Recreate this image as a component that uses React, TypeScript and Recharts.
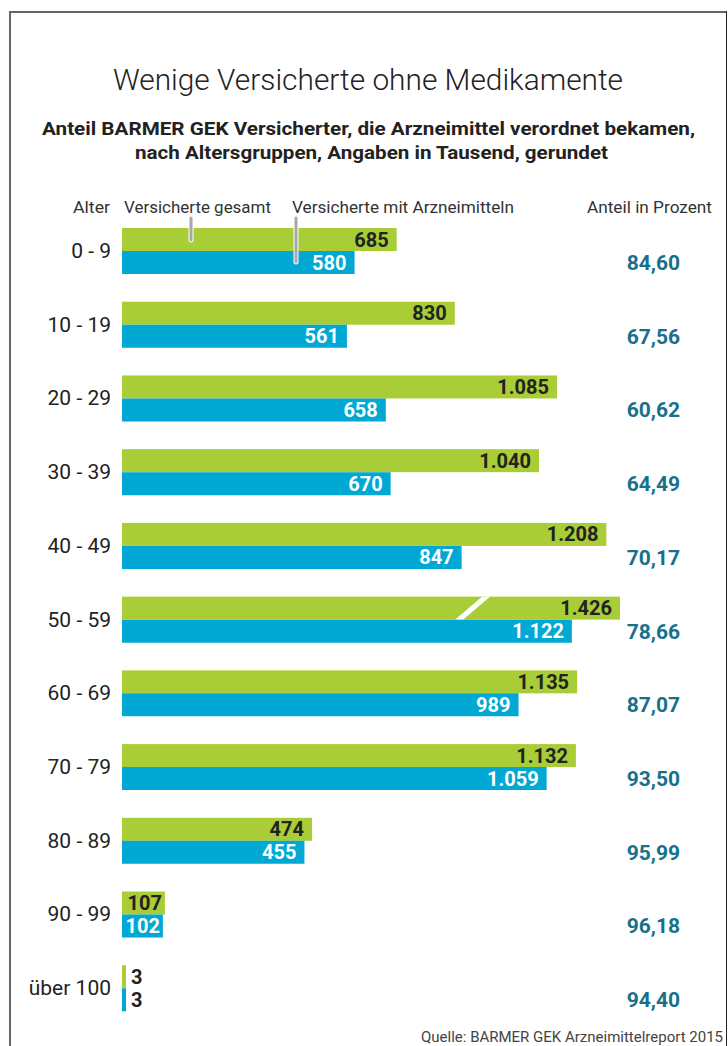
import React from "react";
import { Bar, BarChart, LabelList, XAxis, YAxis } from "recharts";

// Altersgruppen und Werte in Tausend
const ageGroups = [
  "0 - 9",
  "10 - 19",
  "20 - 29",
  "30 - 39",
  "40 - 49",
  "50 - 59",
  "60 - 69",
  "70 - 79",
  "80 - 89",
  "90 - 99",
  "über 100",
];
const insuredTotal = [685, 830, 1085, 1040, 1208, 1426, 1135, 1132, 474, 107, 3];
const insuredWithDrugs = [580, 561, 658, 670, 847, 1122, 989, 1059, 455, 102, 3];
const sharePercent = [
  "84,60",
  "67,56",
  "60,62",
  "64,49",
  "70,17",
  "78,66",
  "87,07",
  "93,50",
  "95,99",
  "96,18",
  "94,40",
];

// the axis stops here, longer bars get a break mark
const AXIS_MAX = 1242;

const GREEN = "#a9cd36";
const BLUE = "#00a8d3";
const TEAL = "#17718a";
const DARK = "#222222";
const FONT = "Roboto, 'Noto Sans', sans-serif";

const rows = ageGroups.map((age, i) => ({
  age,
  gesamt: insuredTotal[i],
  arznei: insuredWithDrugs[i],
  gesamtBar: Math.min(insuredTotal[i], AXIS_MAX),
  arzneiBar: Math.min(insuredWithDrugs[i], AXIS_MAX),
  anteil: sharePercent[i],
}));

const fmt = (v: number) => String(v).replace(/\B(?=(\d{3})+(?!\d))/g, ".");

const BrokenBar = (props: any) => {
  const { x, y, width, height, fill, payload } = props;
  const broken = payload && payload.gesamt > AXIS_MAX;
  const end = x + width;
  return (
    <g>
      <rect x={x} y={y} width={width} height={height} fill={fill} />
      {broken && (
        <polygon
          points={`${end - 165},${y + height} ${end - 157},${y + height} ${end - 130},${y} ${end - 138},${y}`}
          fill="#ffffff"
        />
      )}
    </g>
  );
};

const makeValueLabel = (insideColor: string) => (props: any) => {
  const { x, y, width, height, value } = props;
  const text = fmt(Number(value));
  const textW = text.length * 11;
  const fits = width > textW + 6;
  const pad = width < 60 ? 3 : 8;
  return (
    <text
      x={fits ? x + width - pad : x + width + 5}
      y={y + height / 2}
      textAnchor={fits ? "end" : "start"}
      dominantBaseline="central"
      fill={fits ? insideColor : DARK}
      fontSize={20}
      fontWeight={700}
      fontFamily={FONT}
    >
      {text}
    </text>
  );
};

const AgeTick = ({ x, y, payload }: any) => (
  <text
    x={x}
    y={y}
    textAnchor="end"
    dominantBaseline="central"
    fill={DARK}
    fontSize={21}
    fontFamily={FONT}
  >
    {payload.value}
  </text>
);

const ShareTick = ({ x, y, payload }: any) => (
  <text
    x={x}
    y={y + 12}
    textAnchor="end"
    dominantBaseline="central"
    fill={TEAL}
    fontSize={21}
    fontWeight={700}
    fontFamily={FONT}
  >
    {payload.value}
  </text>
);

export default function App() {
  return (
    <div
      style={{
        position: "relative",
        width: 728,
        height: 1046,
        overflow: "hidden",
        background: "#fff",
        fontFamily: FONT,
      }}
    >
      <style>{`body{margin:0}`}</style>
      <div style={{ position: "absolute", left: 0, top: 0 }}>
        <BarChart
          width={728}
          height={1046}
          data={rows}
          layout="vertical"
          margin={{ top: 214, right: 0, bottom: 21, left: 0 }}
          barSize={23}
          barGap={0}
        >
          <XAxis type="number" domain={[0, AXIS_MAX]} hide allowDataOverflow />
          <YAxis
            yAxisId="left"
            type="category"
            dataKey="age"
            width={122}
            axisLine={false}
            tickLine={false}
            tickSize={0}
            tickMargin={11}
            tick={<AgeTick />}
            interval={0}
          />
          <YAxis
            yAxisId="right"
            orientation="right"
            type="category"
            dataKey="anteil"
            width={108}
            axisLine={false}
            tickLine={false}
            tickSize={0}
            tickMargin={60}
            tick={<ShareTick />}
            interval={0}
          />
          <Bar
            yAxisId="left"
            dataKey="gesamtBar"
            fill={GREEN}
            minPointSize={4}
            shape={<BrokenBar />}
            isAnimationActive={false}
          >
            <LabelList dataKey="gesamt" content={makeValueLabel(DARK)} />
          </Bar>
          <Bar
            yAxisId="left"
            dataKey="arzneiBar"
            fill={BLUE}
            minPointSize={4}
            isAnimationActive={false}
          >
            <LabelList dataKey="arznei" content={makeValueLabel("#ffffff")} />
          </Bar>
        </BarChart>
      </div>

      <svg
        width={728}
        height={1046}
        style={{ position: "absolute", left: 0, top: 0, pointerEvents: "none" }}
        fontFamily={FONT}
      >
        <line x1={9} y1={12} x2={727} y2={12} stroke="#666" strokeWidth={2} />
        <line x1={10} y1={11} x2={10} y2={1046} stroke="#666" strokeWidth={2} />
        <line x1={726.5} y1={11} x2={726.5} y2={1046} stroke="#222" strokeWidth={1} />

        <text x={113} y={90} fontSize={30} fontWeight={300} fill={DARK} textLength={510} lengthAdjust="spacingAndGlyphs">
          Wenige Versicherte ohne Medikamente
        </text>
        <text x={42} y={135} fontSize={18} fontWeight={700} fill={DARK} textLength={653} lengthAdjust="spacingAndGlyphs">
          Anteil BARMER GEK Versicherter, die Arzneimittel verordnet bekamen,
        </text>
        <text x={135} y={159} fontSize={18} fontWeight={700} fill={DARK} textLength={473} lengthAdjust="spacingAndGlyphs">
          nach Altersgruppen, Angaben in Tausend, gerundet
        </text>

        <text x={73} y={213} fontSize={16} fill="#333" textLength={37} lengthAdjust="spacingAndGlyphs">Alter</text>
        <text x={124} y={213} fontSize={16} fill="#333" textLength={147} lengthAdjust="spacingAndGlyphs">Versicherte gesamt</text>
        <text x={292} y={213} fontSize={16} fill="#333" textLength={222} lengthAdjust="spacingAndGlyphs">Versicherte mit Arzneimitteln</text>
        <text x={587} y={213} fontSize={16} fill="#333" textLength={125} lengthAdjust="spacingAndGlyphs">Anteil in Prozent</text>

        <line x1={191} y1={218} x2={191} y2={240} stroke="#fff" strokeWidth={5} strokeLinecap="round" />
        <line x1={191} y1={218} x2={191} y2={240} stroke="#a8a8a8" strokeWidth={3} strokeLinecap="round" />
        <line x1={296} y1={218} x2={296} y2={262} stroke="#fff" strokeWidth={5} strokeLinecap="round" />
        <line x1={296} y1={218} x2={296} y2={262} stroke="#a8a8a8" strokeWidth={3} strokeLinecap="round" />

        <text x={421} y={1042} fontSize={15} fill="#444" textLength={302} lengthAdjust="spacingAndGlyphs">
          Quelle: BARMER GEK Arzneimittelreport 2015
        </text>
      </svg>
    </div>
  );
}
